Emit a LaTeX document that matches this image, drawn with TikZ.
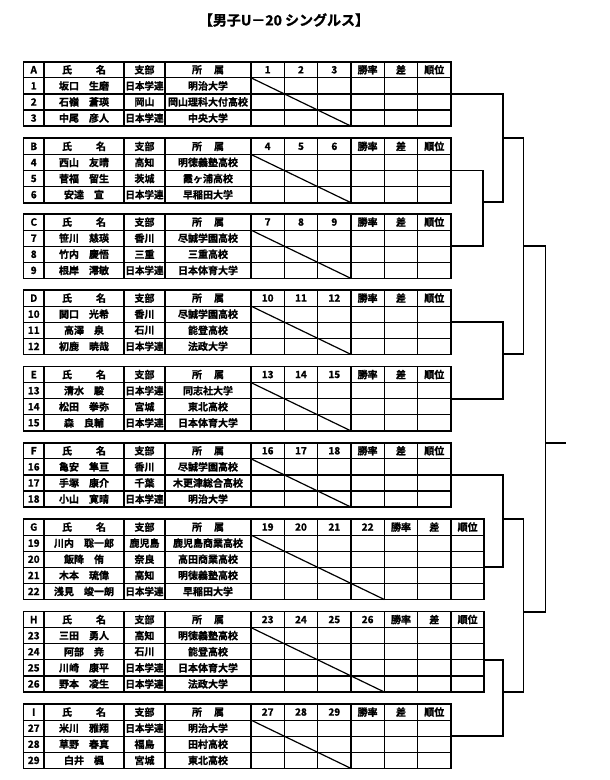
\documentclass[tikz,border=0pt]{standalone}
\usepackage{fontspec}
\usepackage{graphicx}
\setmainfont{Noto Sans CJK JP}[BoldFont={* Bold},BoldFeatures={FakeBold=1.2}]
\newsavebox\fitbox
\newcommand\fitw[2]{\sbox\fitbox{#2}\ifdim\wd\fitbox>#1\relax\resizebox{#1}{\height}{\usebox\fitbox}\else\usebox\fitbox\fi}
\tikzset{
  inner/.style={line width=1.2pt},
  outer/.style={line width=1.8pt},
  bk/.style={line width=1.8pt},
  txt/.style={inner sep=0pt,font=\fontsize{10}{10}\selectfont\bfseries},
  ttl/.style={inner sep=0pt,font=\fontsize{14}{14}\selectfont\bfseries},
}
\newcommand\drawgroup[5]{%
  \pgfmathsetmacro\gTop{#1}%
  \pgfmathsetmacro\gBot{#1+16.1*(#3+1)}%
  \pgfmathsetmacro\gRight{251+33.33*(#3+3)}%
  \pgfmathsetmacro\gHy{#1+8.05}%
  \foreach \i in {1,...,#3} {\draw[inner] (23.5,{#1+16.1*\i}) -- (\gRight,{#1+16.1*\i});}
  \foreach \xx in {44,124,165,251} {\draw[inner] (\xx,\gTop) -- (\xx,\gBot);}
  \pgfmathtruncatemacro\gCols{#3+2}%
  \foreach \k in {1,...,\gCols} {\draw[inner] ({251+33.33*\k},\gTop) -- ({251+33.33*\k},\gBot);}
  \draw[inner] (251,{#1+16.1}) -- ({251+33.33*#3},\gBot);
  \draw[outer] (23.5,\gTop) rectangle (\gRight,\gBot);
  \node[txt] (#2-let) at (33.75,\gHy) {#2};
  \node[txt] (#2-name) at (84,\gHy) {氏\hspace{24pt}名};
  \node[txt] (#2-br) at (144.5,\gHy) {支部};
  \node[txt] (#2-af) at (208,\gHy) {所\hspace{12pt}属};
  \foreach \k in {1,...,#3} {%
    \pgfmathtruncatemacro\num{#4+\k-1}%
    \node[txt] (#2-c\k) at ({251+33.33*(\k-0.5)},\gHy) {\num};
  }
  \node[txt] (#2-w) at ({251+33.33*(#3+0.5)},\gHy) {勝率};
  \node[txt] (#2-d) at ({251+33.33*(#3+1.5)},\gHy) {差};
  \node[txt] (#2-r) at ({251+33.33*(#3+2.5)},\gHy) {順位};
  \foreach [count=\r] \nm/\br/\af in {#5} {%
    \pgfmathsetmacro\ry{#1+16.1*\r+8.05}%
    \pgfmathtruncatemacro\num{#4+\r-1}%
    \node[txt] (#2-n\r) at (33.75,\ry) {\num};
    \node[txt] (#2-p\r) at (84,\ry) {\fitw{76pt}{\nm}};
    \node[txt] (#2-b\r) at (144.5,\ry) {\fitw{38pt}{\br}};
    \node[txt] (#2-a\r) at (208,\ry) {\fitw{83pt}{\af}};
  }
}
\begin{document}
\begin{tikzpicture}[x=1pt,y=-1pt]
\useasboundingbox (0,0) rectangle (610,780);
\node[ttl] (title) at (284,20) {【男子U－20 シングルス】};

\drawgroup{61.7}{A}{3}{1}{坂口　生磨/日本学連/明治大学, 石嶺　蒼瑛/岡山/岡山理科大付高校, 中尾　彦人/日本学連/中央大学}
\drawgroup{138.3}{B}{3}{4}{西山　友晴/高知/明徳義塾高校, 菅福　留生/茨城/霞ヶ浦高校, 安達　宣/日本学連/早稲田大学}
\drawgroup{214}{C}{3}{7}{笹川　慈瑛/香川/尽誠学園高校, 竹内　慶悟/三重/三重高校, 根岸　澪敏/日本学連/日本体育大学}
\drawgroup{290}{D}{3}{10}{関口　光希/香川/尽誠学園高校, 高澤　泉/石川/能登高校, 初鹿　暁哉/日本学連/法政大学}
\drawgroup{366.5}{E}{3}{13}{清水　駿/日本学連/同志社大学, 松田　拳弥/宮城/東北高校, 森　良輔/日本学連/日本体育大学}
\drawgroup{442.7}{F}{3}{16}{亀安　隼亘/香川/尽誠学園高校, 手塚　康介/千葉/木更津総合高校, 小山　寛晴/日本学連/明治大学}
\drawgroup{519}{G}{4}{19}{川内　聡一郎/鹿児島/鹿児島商業高校, 飯降　侑/奈良/高田商業高校, 木本　琉偉/高知/明徳義塾高校, 浅見　竣一朗/日本学連/早稲田大学}
\drawgroup{611.5}{H}{4}{23}{三田　勇人/高知/明徳義塾高校, 阿部　尭/石川/能登高校, 川崎　康平/日本学連/日本体育大学, 野本　凌生/日本学連/法政大学}
\drawgroup{704}{I}{3}{27}{米川　雅翔/日本学連/明治大学, 草野　春真/福島/田村高校, 白井　楓/宮城/東北高校}

% bracket
\coordinate (jA) at (451,93.9);
\coordinate (jB) at (451,170.5);
\coordinate (jC) at (451,246.2);
\coordinate (jD) at (451,322.2);
\coordinate (jE) at (451,398.7);
\coordinate (jF) at (451,474.9);
\coordinate (jG) at (484.3,567.3);
\coordinate (jH) at (484.3,659.8);
\coordinate (jI) at (451,736.2);
\coordinate (mBC) at (483.3,202);
\coordinate (mABC) at (503,138);
\coordinate (mDE) at (503,354);
\coordinate (mTop) at (523.5,246);
\coordinate (mFG) at (503,519);
\coordinate (mHI) at (503,692);
\coordinate (mBot) at (523.5,612);
\coordinate (fin) at (545.5,443);
\coordinate (out) at (566,443);

\draw[bk] (jA) -| (503,202) -- (mBC);
\draw[bk] (jB) -| (mBC) |- (jC);
\draw[bk] (mABC) -| (523.5,354) -- (mDE);
\draw[bk] (jD) -| (mDE) |- (jE);
\draw[bk] (mTop) -| (545.5,612) -- (mBot);
\draw[bk] (fin) -- (out);
\draw[bk] (jF) -| (503,567.3) -- (jG);
\draw[bk] (mFG) -| (523.5,692) -- (mHI);
\draw[bk] (jH) -| (503,736.2) -- (jI);
\end{tikzpicture}
\end{document}
